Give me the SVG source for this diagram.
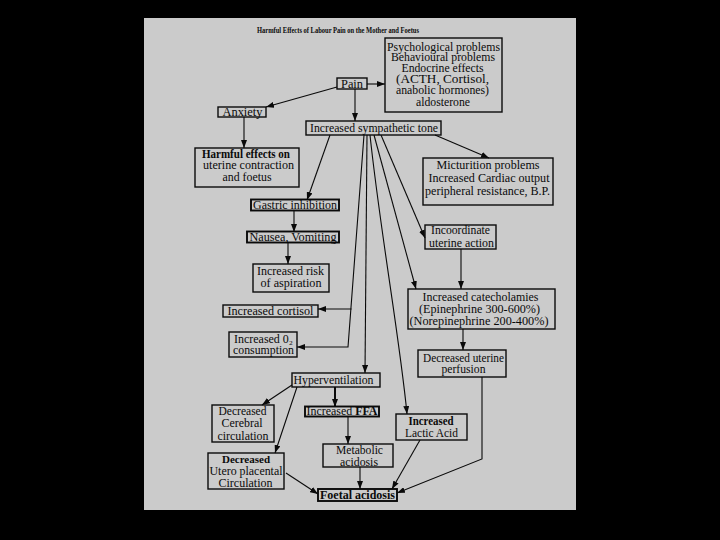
<svg xmlns="http://www.w3.org/2000/svg" width="720" height="540" viewBox="0 0 720 540">
<defs>
<marker id="ah" viewBox="0 0 8 6" refX="8" refY="3" markerWidth="8" markerHeight="6" markerUnits="userSpaceOnUse" orient="auto">
<path d="M0,0 L8,3 L0,6 z" fill="#0a0a0a"/>
</marker>
<style>
.box{fill:none;stroke:#0a0a0a;stroke-width:1.4}
.thick{stroke-width:1.9}
text{font-family:"Liberation Serif","Times New Roman",serif;font-size:11.5px;fill:#0a0a0a;text-anchor:middle}
.b{font-weight:bold}
.c path,.c line,.c polyline{fill:none;stroke:#0a0a0a;stroke-width:1.1;marker-end:url(#ah)}
</style>
</defs>
<rect x="0" y="0" width="720" height="540" fill="#000"/>
<rect x="144" y="18" width="432" height="492" fill="#cbcbcb"/>
<text x="338" y="33" class="b" style="font-size:8.5px" textLength="162" lengthAdjust="spacingAndGlyphs">Harmful Effects of Labour Pain on the Mother and Foetus</text>

<g class="c">
<line x1="367" y1="84" x2="385" y2="84"/>
<line x1="337" y1="87" x2="266" y2="107"/>
<line x1="355" y1="89" x2="355" y2="121"/>
<line x1="244" y1="117" x2="244" y2="148"/>
<line x1="435" y1="135" x2="489" y2="158"/>
<line x1="330" y1="135" x2="307" y2="200"/>
<line x1="294" y1="210.5" x2="294" y2="232"/>
<line x1="288" y1="242.5" x2="288" y2="264"/>
<line x1="381" y1="135" x2="425" y2="238"/>
<line x1="461" y1="249" x2="461" y2="289"/>
<line x1="374" y1="135" x2="416" y2="289"/>
<polyline points="364,135 348,347 297,347"/>
<line x1="351.5" y1="309" x2="318" y2="309"/>
<line x1="367" y1="135" x2="365" y2="373"/>
<path d="M370,135 C380,230 400,340 407,414"/>
<line x1="463" y1="329" x2="463" y2="350"/>
<polyline points="482,377 482,459 397,493"/>
<line x1="292" y1="385" x2="262" y2="405"/>
<line x1="297" y1="387" x2="275" y2="453"/>
<line x1="335" y1="387" x2="335" y2="407" style="stroke-width:2"/>
<line x1="348" y1="416.5" x2="348" y2="444"/>
<line x1="420" y1="440" x2="392" y2="489"/>
<line x1="360" y1="467" x2="360" y2="489"/>
<line x1="286" y1="473" x2="318" y2="494"/>
</g>

<g id="pain"><rect class="box" x="337" y="78" width="30" height="11"/><text x="352" y="87.5" textLength="22" lengthAdjust="spacingAndGlyphs">Pain</text></g>
<g id="psych"><rect class="box" x="385" y="38" width="117" height="74"/>
<text x="443.5" y="50.5" textLength="113" lengthAdjust="spacingAndGlyphs">Psychological problems</text>
<text x="443" y="61" textLength="104" lengthAdjust="spacingAndGlyphs">Behavioural problems</text>
<text x="442.5" y="71.5" textLength="82" lengthAdjust="spacingAndGlyphs">Endocrine effects</text>
<text x="442.5" y="82.5" textLength="93" lengthAdjust="spacingAndGlyphs">(ACTH, Cortisol,</text>
<text x="442.5" y="93.5" textLength="93" lengthAdjust="spacingAndGlyphs">anabolic hormones)</text>
<text x="443" y="106" textLength="54" lengthAdjust="spacingAndGlyphs">aldosterone</text></g>
<g id="anxiety"><rect class="box" x="218" y="107" width="48" height="10"/><text x="242.5" y="115.5" textLength="40" lengthAdjust="spacingAndGlyphs">Anxiety</text></g>
<g id="symp"><rect class="box" x="306" y="121" width="135" height="14"/><text x="374" y="131.5" textLength="128" lengthAdjust="spacingAndGlyphs">Increased sympathetic tone</text></g>
<g id="harmful"><rect class="box" x="195" y="148" width="104" height="39"/>
<text x="246" y="158" class="b" textLength="88" lengthAdjust="spacingAndGlyphs">Harmful effects on</text>
<text x="248.5" y="169" textLength="91" lengthAdjust="spacingAndGlyphs">uterine contraction</text>
<text x="247" y="181" textLength="49" lengthAdjust="spacingAndGlyphs">and foetus</text></g>
<g id="mict"><rect class="box" x="423" y="158" width="130" height="47"/>
<text x="488" y="168.5" textLength="103" lengthAdjust="spacingAndGlyphs">Micturition problems</text>
<text x="489" y="181.5" textLength="121" lengthAdjust="spacingAndGlyphs">Increased Cardiac output</text>
<text x="487.5" y="195" textLength="125" lengthAdjust="spacingAndGlyphs">peripheral resistance, B.P.</text></g>
<g id="gastric"><rect class="box thick" x="251" y="199.5" width="88" height="11"/><text x="295" y="208.5" textLength="84" lengthAdjust="spacingAndGlyphs">Gastric inhibition</text></g>
<g id="nausea"><rect class="box thick" x="247" y="231.5" width="92" height="11"/><text x="293" y="240.5" textLength="87" lengthAdjust="spacingAndGlyphs">Nausea, Vomiting</text></g>
<g id="incoord"><rect class="box" x="425" y="225" width="71" height="24"/>
<text x="460.5" y="233.5" textLength="59" lengthAdjust="spacingAndGlyphs">Incoordinate</text>
<text x="461.5" y="246.5" textLength="65" lengthAdjust="spacingAndGlyphs">uterine action</text></g>
<g id="risk"><rect class="box" x="253" y="264" width="76" height="28"/>
<text x="290.5" y="275" textLength="67" lengthAdjust="spacingAndGlyphs">Increased risk</text>
<text x="291" y="287" textLength="61" lengthAdjust="spacingAndGlyphs">of aspiration</text></g>
<g id="catechol"><rect class="box" x="408" y="289" width="147" height="40"/>
<text x="480.5" y="301" textLength="116" lengthAdjust="spacingAndGlyphs">Increased catecholamies</text>
<text x="479.5" y="313" textLength="121" lengthAdjust="spacingAndGlyphs">(Epinephrine 300-600%)</text>
<text x="479" y="325" textLength="139" lengthAdjust="spacingAndGlyphs">(Norepinephrine 200-400%)</text></g>
<g id="cortisol"><rect class="box" x="223" y="305" width="95" height="12"/><text x="270.5" y="314.5" textLength="86" lengthAdjust="spacingAndGlyphs">Increased cortisol</text></g>
<g id="o2"><rect class="box" x="229" y="332" width="68" height="25"/>
<text x="263.5" y="343" textLength="59" lengthAdjust="spacingAndGlyphs">Increased 0₂</text>
<text x="263.5" y="354" textLength="61" lengthAdjust="spacingAndGlyphs">consumption</text></g>
<g id="perfusion"><rect class="box" x="418" y="350" width="88" height="27"/>
<text x="463.5" y="362" textLength="81" lengthAdjust="spacingAndGlyphs">Decreased uterine</text>
<text x="463.5" y="373" textLength="44" lengthAdjust="spacingAndGlyphs">perfusion</text></g>
<g id="hyper"><rect class="box" x="292" y="373" width="88" height="14"/><text x="333.5" y="383.5" textLength="80" lengthAdjust="spacingAndGlyphs">Hyperventilation</text></g>
<g id="cerebral"><rect class="box" x="212" y="405" width="62" height="37"/>
<text x="242.5" y="415" textLength="48" lengthAdjust="spacingAndGlyphs">Decreased</text>
<text x="242" y="427" textLength="41" lengthAdjust="spacingAndGlyphs">Cerebral</text>
<text x="243" y="439.5" textLength="51" lengthAdjust="spacingAndGlyphs">circulation</text></g>
<g id="ffa"><rect class="box thick" x="305" y="406.5" width="74" height="10"/><text x="342" y="415" textLength="71" lengthAdjust="spacingAndGlyphs">Increased <tspan class="b">FFA</tspan></text></g>
<g id="lactic"><rect class="box" x="396" y="414" width="71" height="26"/>
<text x="431" y="425" class="b" textLength="45" lengthAdjust="spacingAndGlyphs">Increased</text>
<text x="431.5" y="437" textLength="53" lengthAdjust="spacingAndGlyphs">Lactic Acid</text></g>
<g id="metabolic"><rect class="box" x="323" y="444" width="70" height="23"/>
<text x="359.5" y="454" textLength="47" lengthAdjust="spacingAndGlyphs">Metabolic</text>
<text x="359" y="466" textLength="38" lengthAdjust="spacingAndGlyphs">acidosis</text></g>
<g id="utero"><rect class="box" x="208" y="453" width="76" height="36"/>
<text x="246" y="462.5" class="b" style="font-size:10px" textLength="48" lengthAdjust="spacingAndGlyphs">Decreased</text>
<text x="246" y="475" textLength="73" lengthAdjust="spacingAndGlyphs">Utero placental</text>
<text x="245.5" y="487" textLength="54" lengthAdjust="spacingAndGlyphs">Circulation</text></g>
<g id="foetal"><rect class="box thick" x="318" y="489" width="79" height="12"/><text x="357.5" y="498.5" class="b" textLength="75" lengthAdjust="spacingAndGlyphs">Foetal acidosis</text></g>
</svg>
